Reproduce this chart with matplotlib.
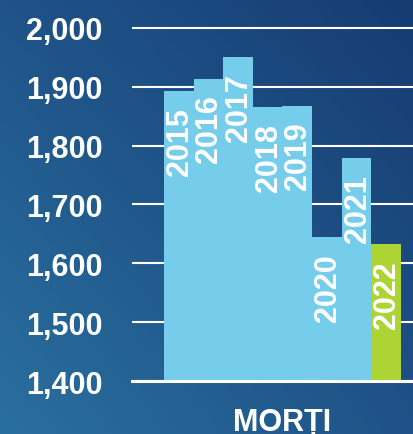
import matplotlib
matplotlib.use("Agg")
import matplotlib.pyplot as plt
import numpy as np

years = ["2015", "2016", "2017", "2018", "2019", "2020", "2021", "2022"]
deaths = [1893, 1914, 1950, 1866, 1868, 1645, 1779, 1633]
bar_colors = ["#75cdeb"] * 7 + ["#acd434"]
yticks = [1400, 1500, 1600, 1700, 1800, 1900, 2000]
ytick_labels = ["1,400", "1,500", "1,600", "1,700", "1,800", "1,900", "2,000"]
xlabel = "MORȚI"

plt.rcParams['font.family'] = ['Liberation Sans', 'DejaVu Sans']
plt.rcParams['font.weight'] = 'bold'

W, H = 414, 435
fig = plt.figure(figsize=(W / 100, H / 100), dpi=100)

# background gradient
bg = fig.add_axes([0, 0, 1, 1], zorder=-10)
yy, xx = np.mgrid[0:1:200j, 0:1:200j]
tl = np.array([0x1f, 0x53, 0x89]) / 255
tr = np.array([0x16, 0x3c, 0x72]) / 255
bl = np.array([0x2a, 0x70, 0x9f]) / 255
br = np.array([0x1f, 0x52, 0x86]) / 255
img = ((1 - xx)[..., None] * (1 - yy)[..., None] * tl + xx[..., None] * (1 - yy)[..., None] * tr
       + (1 - xx)[..., None] * yy[..., None] * bl + xx[..., None] * yy[..., None] * br)
bg.imshow(img, aspect='auto', extent=[0, 1, 0, 1], origin='upper')
bg.axis('off')

ax = fig.add_axes([132 / W, 53 / H, 1 - 132 / W, (423.7 - 53) / H])
ax.patch.set_alpha(0)
x = np.arange(len(years))
ax.bar(x, np.array(deaths) - 1400, bottom=1400, width=1.0, color=bar_colors, zorder=2)
ax.set_xlim(-1.58, 7.94)
ax.set_ylim(1400, 2030)
for t in yticks:
    ax.axhline(t, color='white', lw=1.5, zorder=1)
ax.axhline(1400, color='white', lw=2.2, zorder=3, clip_on=False)

ax.set_yticks(yticks)
ax.set_yticklabels(ytick_labels, fontsize=22, fontweight='bold', color='white')
ax.tick_params(axis='y', length=0, pad=21)
ax.set_xticks([])
for s in ax.spines.values():
    s.set_visible(False)

for i, (yr, v) in enumerate(zip(years, deaths)):
    ax.annotate(yr, xy=(i, v), xytext=(1, -16), textcoords='offset pixels',
                rotation=90, ha='center', va='top', fontsize=22,
                fontweight='bold', color='white', zorder=4)

fig.text(282.5 / W, 27 / H, xlabel, ha='center', va='top', fontsize=22,
         fontweight='bold', color='white')

fig.savefig("out.png", dpi=100)
